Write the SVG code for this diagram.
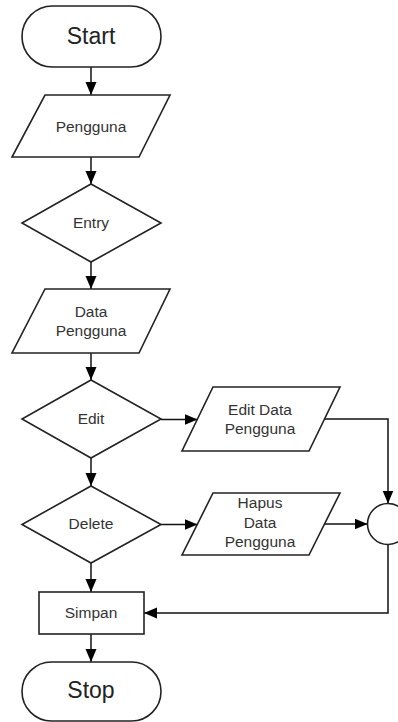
<svg xmlns="http://www.w3.org/2000/svg" width="398" height="722" viewBox="0 0 398 722">
<style>
.s{fill:#fff;stroke:#222;stroke-width:1.6}
.t{font-family:"Liberation Sans",Arial,sans-serif;font-size:15.5px;fill:#333;text-anchor:middle}
.b{font-family:"Liberation Sans",Arial,sans-serif;font-size:23px;fill:#222;text-anchor:middle}
.c{fill:none;stroke:#111;stroke-width:1.5}
</style>
<defs>
<marker id="ah" markerUnits="userSpaceOnUse" markerWidth="14" markerHeight="12" refX="13" refY="6" orient="auto">
<path d="M0,0.5 L13,6 L0,11.5 z" fill="#000"/>
</marker>
</defs>
<rect width="398" height="722" fill="#fff"/>
<g id="connectors">
<path class="c" d="M91,67 V95" marker-end="url(#ah)"/>
<path class="c" d="M91,157 V184" marker-end="url(#ah)"/>
<path class="c" d="M91,262 V289" marker-end="url(#ah)"/>
<path class="c" d="M91,353 V380" marker-end="url(#ah)"/>
<path class="c" d="M91,458 V486" marker-end="url(#ah)"/>
<path class="c" d="M91,563 V592" marker-end="url(#ah)"/>
<path class="c" d="M91,634 V662" marker-end="url(#ah)"/>
<path class="c" d="M161,419.5 H197.5" marker-end="url(#ah)"/>
<path class="c" d="M161,524.5 H197.5" marker-end="url(#ah)"/>
<path class="c" d="M324.5,419 H388 V503.5" marker-end="url(#ah)"/>
<path class="c" d="M324.5,524 H367.5" marker-end="url(#ah)"/>
<path class="c" d="M388,544.5 V613 H144" marker-end="url(#ah)"/>
</g>
<g id="start"><rect class="s" x="22" y="6" width="139" height="61" rx="30.5"/><text class="b" x="91" y="44">Start</text></g>
<g id="pengguna"><polygon class="s" points="45,95 170,95 139,157 12,157"/><text class="t" x="91" y="131.5">Pengguna</text></g>
<g id="entry"><polygon class="s" points="91,184 161,223 91,262 22,223"/><text class="t" x="91" y="228">Entry</text></g>
<g id="data-pengguna"><polygon class="s" points="45,289 170,289 139,353 12,353"/><text class="t" x="91" y="317">Data</text><text class="t" x="91" y="336">Pengguna</text></g>
<g id="edit"><polygon class="s" points="91,380 161,419 91,458 22,419"/><text class="t" x="91" y="424">Edit</text></g>
<g id="delete"><polygon class="s" points="91,486 161,524.5 91,563 22,524.5"/><text class="t" x="91" y="529">Delete</text></g>
<g id="edit-data"><polygon class="s" points="213,387 340,387 309,451 182,451"/><text class="t" x="260" y="414.5">Edit Data</text><text class="t" x="260" y="433.5">Pengguna</text></g>
<g id="hapus-data"><polygon class="s" points="213,493 340,493 309,555 182,555"/><text class="t" x="260" y="508">Hapus</text><text class="t" x="260" y="528">Data</text><text class="t" x="260" y="547">Pengguna</text></g>
<g id="junction"><circle class="s" cx="388" cy="524" r="20.5"/></g>
<g id="simpan"><rect class="s" x="39" y="592" width="105" height="42"/><text class="t" x="91" y="618">Simpan</text></g>
<g id="stop"><rect class="s" x="22" y="662" width="139" height="59" rx="29.5"/><text class="b" x="91" y="698">Stop</text></g>
</svg>
